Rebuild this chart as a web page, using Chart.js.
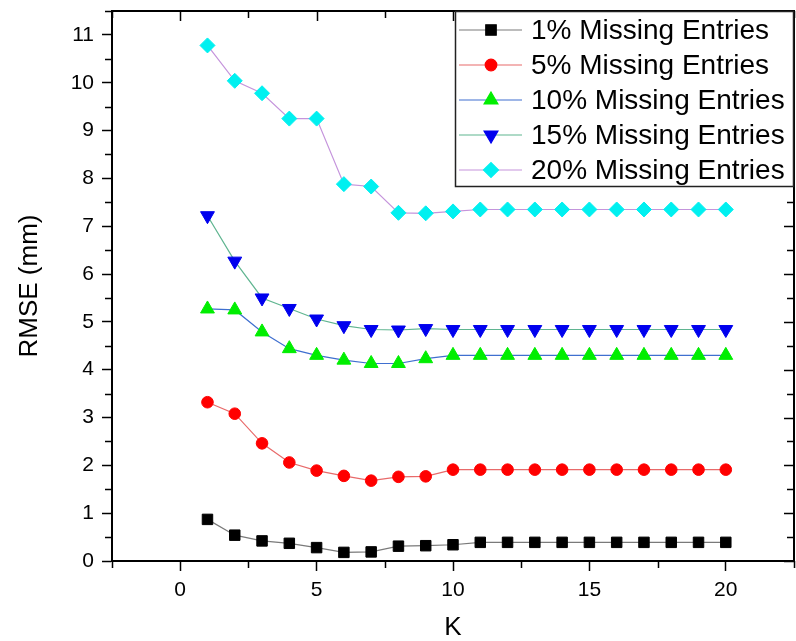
<!DOCTYPE html>
<html>
<head>
<meta charset="utf-8">
<script src="https://cdn.jsdelivr.net/npm/chart.js@4"></script>
<style>
  html, body { margin: 0; padding: 0; background: #fff; }
  #wrap { width: 796px; height: 641px; }
</style>
</head>
<body>
<div id="wrap"><canvas id="rmseChart" width="796" height="641"></canvas></div>
<script>
// K Werte (x-Achse)
const kValues = [1, 2, 3, 4, 5, 6, 7, 8, 9, 10, 11, 12, 13, 14, 15, 16, 17, 18, 19, 20];

// RMSE Werte pro Anteil fehlender Einträge
const miss1 = [0.87, 0.54, 0.42, 0.37, 0.28, 0.18, 0.19, 0.31, 0.32, 0.34, 0.39, 0.39, 0.39, 0.39, 0.39, 0.39, 0.39, 0.39, 0.39, 0.39];
const miss5 = [3.32, 3.08, 2.46, 2.06, 1.89, 1.78, 1.68, 1.76, 1.77, 1.91, 1.91, 1.91, 1.91, 1.91, 1.91, 1.91, 1.91, 1.91, 1.91, 1.91];
const miss10 = [5.27, 5.25, 4.79, 4.44, 4.30, 4.20, 4.13, 4.13, 4.23, 4.30, 4.30, 4.30, 4.30, 4.30, 4.30, 4.30, 4.30, 4.30, 4.30, 4.30];
const miss15 = [7.22, 6.27, 5.50, 5.28, 5.06, 4.92, 4.84, 4.83, 4.86, 4.84, 4.84, 4.84, 4.84, 4.84, 4.84, 4.84, 4.84, 4.84, 4.84, 4.84];
const miss20 = [10.78, 10.04, 9.78, 9.25, 9.25, 7.88, 7.83, 7.28, 7.27, 7.31, 7.35, 7.35, 7.35, 7.35, 7.35, 7.35, 7.35, 7.35, 7.35, 7.35];

const seriesLabels = ["1% Missing Entries", "5% Missing Entries", "10% Missing Entries", "15% Missing Entries", "20% Missing Entries"];
const xTickValues = [0, 5, 10, 15, 20];
const yTickValues = [0, 1, 2, 3, 4, 5, 6, 7, 8, 9, 10, 11];

const FONT = "'Liberation Sans', Arial, sans-serif";

function toPoints(values) {
  return values.map((v, i) => ({ x: kValues[i], y: v }));
}

// ----------------------------------------------------------
// Rahmen + kleine Ticks (oben/rechts nach innen)
// ----------------------------------------------------------
const frameTicks = {
  id: "frameTicks",
  afterDatasetsDraw(chart) {
    const { ctx, chartArea: a, scales } = chart;
    const x = scales.x, y = scales.y;
    ctx.save();
    ctx.strokeStyle = "#000";
    ctx.lineWidth = 1.5;
    ctx.beginPath();
    for (let v = -2.5; v <= 22.5; v += 2.5) {
      const px = Math.round(x.getPixelForValue(v)) + 0.5;
      const major = v % 5 === 0;
      const len = major ? 10 : 7;
      if (!major) {
        ctx.moveTo(px, a.bottom);
        ctx.lineTo(px, a.bottom + len);
      }
      ctx.moveTo(px, a.top);
      ctx.lineTo(px, a.top + len);
    }
    for (let v = 0; v <= 11.5; v += 0.5) {
      const py = Math.round(y.getPixelForValue(v)) + 0.5;
      const major = v % 1 === 0;
      const len = major ? 10 : 7;
      if (!major) {
        ctx.moveTo(a.left, py);
        ctx.lineTo(a.left - len, py);
      }
      ctx.moveTo(a.right, py);
      ctx.lineTo(a.right - len, py);
    }
    ctx.stroke();
    ctx.lineWidth = 2;
    ctx.strokeRect(a.left, a.top, a.right - a.left, a.bottom - a.top);
    ctx.restore();
  },
};

// ----------------------------------------------------------
// Legende als Kasten oben rechts (Linie + Marker)
// ----------------------------------------------------------
const boxLegend = {
  id: "boxLegend",
  afterDraw(chart) {
    const { ctx, chartArea: a } = chart;
    const left = 455, top = a.top, right = a.right, bottom = 187;
    ctx.save();
    ctx.fillStyle = "#fff";
    ctx.fillRect(left, top, right - left, bottom - top);
    ctx.strokeStyle = "#222";
    ctx.lineWidth = 1.5;
    ctx.strokeRect(left + 0.5, top + 0.5, right - left - 1, bottom - top - 1);

    chart.data.datasets.forEach((ds, i) => {
      const rowY = 30 + i * 35;
      ctx.strokeStyle = ds.borderColor;
      ctx.lineWidth = 1.2;
      ctx.beginPath();
      ctx.moveTo(459, rowY);
      ctx.lineTo(522, rowY);
      ctx.stroke();

      ctx.fillStyle = ds.pointBackgroundColor;
      ctx.strokeStyle = ds.pointBackgroundColor;
      Chart.helpers.drawPoint(ctx, {
        pointStyle: ds.pointStyle,
        radius: ds.pointRadius,
        rotation: ds.pointRotation || 0,
        borderWidth: 1,
      }, 491, rowY);

      ctx.fillStyle = "#000";
      ctx.font = "28px " + FONT;
      ctx.textBaseline = "middle";
      ctx.textAlign = "left";
      ctx.fillText(ds.label, 531, rowY + 1);
    });
    ctx.restore();
  },
};

function makeDataset(label, values, lineColor, markerColor, style, radius, rotation) {
  return {
    label: label,
    data: toPoints(values),
    borderColor: lineColor,
    borderWidth: 1.2,
    pointBackgroundColor: markerColor,
    pointBorderColor: markerColor,
    pointBorderWidth: 1,
    pointStyle: style,
    pointRadius: radius,
    pointRotation: rotation || 0,
    tension: 0,
    fill: false,
  };
}

const ctx = document.getElementById("rmseChart").getContext("2d");
new Chart(ctx, {
  type: "line",
  data: {
    datasets: [
      makeDataset(seriesLabels[0], miss1, "#7a7a7a", "#000000", "rect", 7.4),
      makeDataset(seriesLabels[1], miss5, "#e86a6a", "#ff0000", "circle", 5.8),
      makeDataset(seriesLabels[2], miss10, "#3f6fcf", "#00ee00", "triangle", 8),
      makeDataset(seriesLabels[3], miss15, "#5fb590", "#0000ee", "triangle", 8, 180),
      makeDataset(seriesLabels[4], miss20, "#c594dc", "#00f0f0", "rectRot", 7.5),
    ],
  },
  options: {
    responsive: false,
    animation: false,
    layout: { autoPadding: false, padding: { top: 11, right: 2, left: 0, bottom: 0 } },
    plugins: {
      legend: { display: false },
      tooltip: { enabled: false },
    },
    scales: {
      x: {
        type: "linear",
        min: -2.5,
        max: 22.5,
        afterBuildTicks: (scale) => {
          scale.ticks = xTickValues.map((v) => ({ value: v }));
        },
        afterFit: (scale) => {
          scale.height = 80;
          scale.paddingLeft = 0;
          scale.paddingRight = 0;
        },
        ticks: {
          color: "#000",
          font: { family: FONT, size: 21 },
          padding: 7,
          maxRotation: 0,
        },
        grid: {
          display: true,
          drawOnChartArea: false,
          drawTicks: true,
          tickLength: 10,
          tickWidth: 1.5,
          tickColor: "#000",
        },
        border: { display: true, color: "#000", width: 2 },
        title: {
          display: true,
          text: "K",
          color: "#000",
          font: { family: FONT, size: 26, lineHeight: 1 },
          padding: 0,
        },
      },
      y: {
        type: "linear",
        min: 0,
        max: 11.5,
        afterBuildTicks: (scale) => {
          scale.ticks = yTickValues.map((v) => ({ value: v }));
        },
        afterFit: (scale) => {
          scale.width = 112;
          scale.paddingTop = 0;
          scale.paddingBottom = 0;
        },
        ticks: {
          color: "#000",
          font: { family: FONT, size: 21 },
          padding: 8,
        },
        grid: {
          display: true,
          drawOnChartArea: false,
          drawTicks: true,
          tickLength: 10,
          tickWidth: 1.5,
          tickColor: "#000",
        },
        border: { display: true, color: "#000", width: 2 },
        title: {
          display: true,
          text: "RMSE (mm)",
          color: "#000",
          font: { family: FONT, size: 26, lineHeight: 1 },
          padding: { top: 17, bottom: 0 },
        },
      },
    },
  },
  plugins: [frameTicks, boxLegend],
});
</script>
</body>
</html>
